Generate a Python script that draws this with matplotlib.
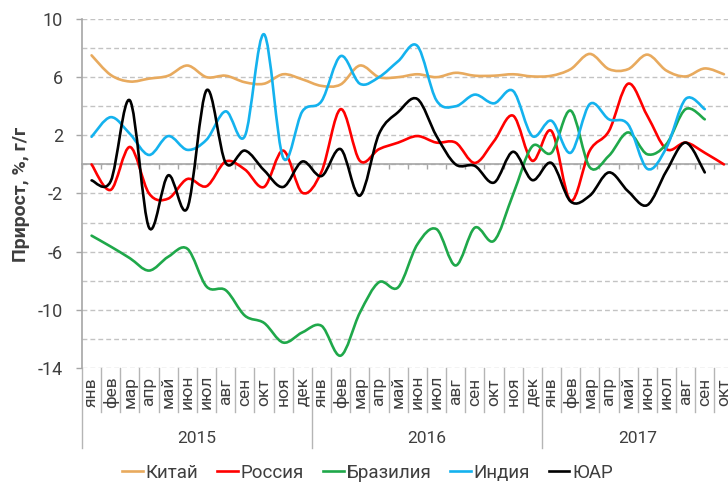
import matplotlib
matplotlib.use("Agg")
import matplotlib.pyplot as plt
from matplotlib.path import Path
from matplotlib.patches import PathPatch
from matplotlib.lines import Line2D

plt.rcParams['font.family'] = ['Roboto', 'DejaVu Sans']
plt.rcParams['axes.unicode_minus'] = False

# categories
months = ['янв', 'фев', 'мар', 'апр', 'май', 'июн', 'июл', 'авг', 'сен', 'окт', 'ноя', 'дек']
month_labels = months * 2 + months[:10]
years = ['2015', '2016', '2017']
year_counts = [12, 12, 10]

# y/y growth, %
china = [7.5, 6.15, 5.7, 5.9, 6.1, 6.8, 6.0, 6.1, 5.65, 5.55, 6.2, 5.85,
         5.4, 5.5, 6.8, 6.0, 6.0, 6.2, 6.0, 6.3, 6.1, 6.1,
         6.2, 6.05, 6.1, 6.55, 7.6, 6.55, 6.55, 7.55, 6.45, 6.05, 6.6, 6.2]
russia = [0.0, -1.75, 1.2, -2.0, -2.35, -1.0, -1.5, 0.2, -0.35, -1.55, 0.95, -1.95,
          -0.5, 3.8, 0.25, 1.05, 1.5, 1.95, 1.5, 1.5, 0.1, 1.6,
          3.35, 0.25, 2.3, -2.5, 0.95, 2.3, 5.55, 3.35, 1.05, 1.5, 0.8, 0.0]
brazil = [-4.9, -5.65, -6.45, -7.3, -6.35, -5.8, -8.4, -8.65, -10.4, -10.9, -12.25, -11.55,
          -11.1, -13.15, -10.2, -8.1, -8.45, -5.5, -4.45, -6.95, -4.35, -5.25,
          -2.05, 1.25, 0.8, 3.7, -0.2, 0.6, 2.2, 0.7, 1.4, 3.8, 3.1]
india = [1.9, 3.25, 2.1, 0.65, 1.95, 1.0, 1.7, 3.65, 1.95, 8.95, 0.45, 3.65,
         4.35, 7.45, 5.55, 6.0, 7.1, 8.15, 4.4, 4.0, 4.8, 4.2,
         5.05, 1.95, 3.0, 0.8, 4.15, 3.1, 2.75, -0.3, 1.15, 4.5, 3.8]
safrica = [-1.1, -1.15, 4.4, -4.35, -0.75, -3.0, 5.1, 0.1, 0.95, -0.4, -1.55, 0.2,
           -0.8, 1.05, -2.15, 2.1, 3.6, 4.5, 1.95, 0.0, -0.1, -1.25,
           0.87, -1.08, 0.1, -2.55, -2.15, -0.55, -1.85, -2.8, -0.45, 1.5, -0.55]

series = [('Китай', china, '#E8AA5E'),
          ('Россия', russia, '#FF0000'),
          ('Бразилия', brazil, '#1FA84A'),
          ('Индия', india, '#14B2EE'),
          ('ЮАР', safrica, '#000000')]

text_col = '#3F3F3F'
axis_col = '#A6A6A6'


def smooth_path(ys):
    # Excel-like smoothed line: cubic Bezier through each point
    xs = [i + 0.5 for i in range(len(ys))]
    pts = list(zip(xs, ys))
    n = len(pts)
    verts = [pts[0]]
    codes = [Path.MOVETO]
    for i in range(n - 1):
        p0 = pts[max(i - 1, 0)]
        p1 = pts[i]
        p2 = pts[i + 1]
        p3 = pts[min(i + 2, n - 1)]
        c1 = (p1[0] + (p2[0] - p0[0]) / 6, p1[1] + (p2[1] - p0[1]) / 6)
        c2 = (p2[0] - (p3[0] - p1[0]) / 6, p2[1] - (p3[1] - p1[1]) / 6)
        verts += [c1, c2, p2]
        codes += [Path.CURVE4] * 3
    return Path(verts, codes)


fig = plt.figure(figsize=(7.28, 4.86), dpi=100)
ax = fig.add_axes([82 / 728, 118 / 486, 651.5 / 728, 349 / 486])

handles = []
for name, vals, col in series:
    ax.add_patch(PathPatch(smooth_path(vals), fill=False, edgecolor=col, lw=1.9,
                           capstyle='round', joinstyle='round', zorder=3))
    handles.append(Line2D([], [], color=col, lw=1.9, label=name))

ax.set_xlim(0, len(month_labels))
ax.set_ylim(-14, 10)
ax.set_yticks(range(-14, 11, 4))
ax.set_yticks(range(-12, 10, 4), minor=True)
ax.grid(True, which='both', axis='y', color='#C3C3C3', lw=1.0, linestyle=(0, (3.5, 2.2)))
ax.set_axisbelow(True)

ax.spines['top'].set_visible(False)
ax.spines['right'].set_visible(False)
ax.spines['left'].set_color(axis_col)
ax.spines['left'].set_linewidth(1.2)
ax.spines['bottom'].set_position(('data', 0))
ax.spines['bottom'].set_color(axis_col)
ax.spines['bottom'].set_linewidth(1.2)

ax.set_xticks(range(0, len(month_labels) + 1))
ax.set_xticklabels([])
ax.tick_params(axis='x', direction='out', length=3.6, width=1.0, color=axis_col)
ax.tick_params(axis='y', which='major', direction='out', length=4.5, width=1.0,
               color=axis_col, labelsize=13, labelcolor=text_col, pad=9)
ax.tick_params(axis='y', which='minor', length=0)

fig.text(21 / 728, 1 - 194 / 486, 'Прирост, %, г/г', rotation=90, ha='center', va='center',
         fontsize=14, fontweight='bold', color=text_col)

# multi-level category labels under the plot
tr = ax.get_xaxis_transform()
for i, lab in enumerate(month_labels):
    ax.text(i + 0.5, -0.068, lab, rotation=90, ha='center', va='center',
            fontsize=12.5, color=text_col, transform=tr)

start = 0
for yr, cnt in zip(years, year_counts):
    ax.text(start + cnt / 2, -0.203, yr, ha='center', va='center',
            fontsize=12.5, color=text_col, transform=tr)
    start += cnt

group_edges = [0, 12, 24]
for i in range(len(month_labels) + 1):
    bottom = -0.229 if i in group_edges else -0.126
    ax.plot([i, i], [0, bottom], color='#B5B5B5', lw=1.0, transform=tr, clip_on=False)

fig.legend(handles=handles, loc='center', bbox_to_anchor=(0.505, 0.027), ncol=5,
           frameon=False, fontsize=13.5, handlelength=1.1, handletextpad=0.15,
           columnspacing=1.0, labelcolor=text_col)

fig.savefig('out.png', dpi=100)
